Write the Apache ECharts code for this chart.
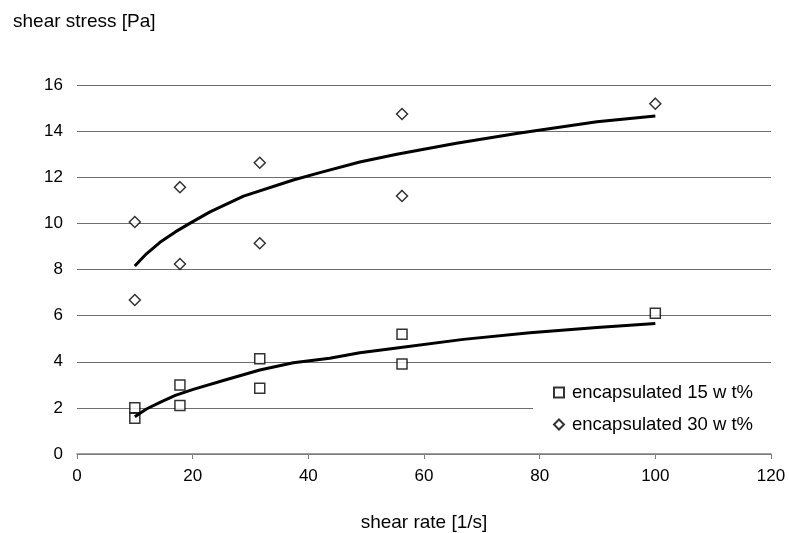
<!DOCTYPE html>
<html>
<head>
<meta charset="utf-8">
<script src="https://cdn.jsdelivr.net/npm/echarts@6/dist/echarts.min.js"></script>
<style>html,body{margin:0;padding:0;background:#fff;}#c{width:789px;height:533px;}</style>
</head>
<body>
<div id="c"></div>
<script>
// measured data
var shearRate = [10, 10, 17.8, 17.8, 31.6, 31.6, 56.2, 56.2, 100];
var stress15 = [2.01, 1.55, 2.99, 2.10, 4.13, 2.85, 5.19, 3.90, 6.10];
var stress30 = [10.06, 6.68, 11.57, 8.24, 12.63, 9.14, 14.74, 11.19, 15.19];
// fitted curves
var fitX15 = [10, 12, 14.35, 17, 20.1, 25.9, 31.6, 37.4, 43.7, 48.9, 55.3, 66.8, 78.3, 89.9, 100];
var fitY15 = [1.62, 1.95, 2.24, 2.54, 2.8, 3.23, 3.64, 3.96, 4.15, 4.39, 4.6, 4.97, 5.26, 5.49, 5.66];
var fitX30 = [10, 12, 14.35, 17, 19.5, 23, 28.8, 37.4, 42, 48.9, 55.3, 65.6, 76, 89.9, 100];
var fitY30 = [8.15, 8.68, 9.18, 9.63, 10.0, 10.5, 11.18, 11.88, 12.2, 12.66, 13.0, 13.47, 13.9, 14.41, 14.66];
var seriesNames = ['encapsulated 15 w t%', 'encapsulated 30 w t%'];
var xTitle = 'shear rate [1/s]';
var yTitle = 'shear stress [Pa]';

function pairs(xs, ys) { return xs.map(function (x, i) { return [x, ys[i]]; }); }

var FONT = '"Liberation Sans", Arial, sans-serif';
var chart = echarts.init(document.getElementById('c'), null, { renderer: 'canvas' });
chart.setOption({
  animation: false,
  backgroundColor: '#fff',
  title: {
    text: yTitle, left: 8, top: 7,
    textStyle: { fontFamily: FONT, fontSize: 19, fontWeight: 'normal', color: '#000' }
  },
  grid: { left: 77, right: 18, top: 85, bottom: 79, containLabel: false, outerBoundsMode: 'none' },
  legend: {
    orient: 'vertical', left: 533, top: 377,
    backgroundColor: '#fff', padding: [6, 20, 6, 20],
    itemWidth: 10, itemHeight: 10, itemGap: 13,
    data: seriesNames,
    textStyle: { fontFamily: FONT, fontSize: 18.5, color: '#000', padding: [0, 0, 0, 3] }
  },
  xAxis: {
    type: 'value', min: 0, max: 120, interval: 20,
    name: xTitle, nameLocation: 'middle', nameGap: 59,
    nameTextStyle: { fontFamily: FONT, fontSize: 19, color: '#000' },
    axisLine: { lineStyle: { color: '#808080', width: 1.5 } },
    axisTick: { show: true, length: 5, inside: false, lineStyle: { color: '#808080' } },
    axisLabel: { margin: 14, fontFamily: FONT, fontSize: 17, color: '#000' },
    splitLine: { show: false }
  },
  yAxis: {
    type: 'value', min: 0, max: 16, interval: 2,
    axisLine: { show: false },
    axisTick: { show: false },
    axisLabel: { margin: 14, fontFamily: FONT, fontSize: 17, color: '#000' },
    splitLine: { show: true, lineStyle: { color: '#6e6e6e', width: 1 } }
  },
  series: [
    {
      name: seriesNames[0], type: 'scatter', symbol: 'rect', symbolSize: 10,
      itemStyle: { color: '#fff', borderColor: '#000', borderWidth: 1.5 },
      data: pairs(shearRate, stress15), z: 3
    },
    {
      name: seriesNames[1], type: 'scatter', symbol: 'diamond', symbolSize: 11,
      itemStyle: { color: '#fff', borderColor: '#000', borderWidth: 1.5 },
      data: pairs(shearRate, stress30), z: 3
    },
    {
      name: 'fit15', type: 'line', showSymbol: false, symbol: 'none',
      lineStyle: { color: '#000', width: 3 }, data: pairs(fitX15, fitY15), z: 4
    },
    {
      name: 'fit30', type: 'line', showSymbol: false, symbol: 'none',
      lineStyle: { color: '#000', width: 3 }, data: pairs(fitX30, fitY30), z: 4
    }
  ]
});
</script>
</body>
</html>
